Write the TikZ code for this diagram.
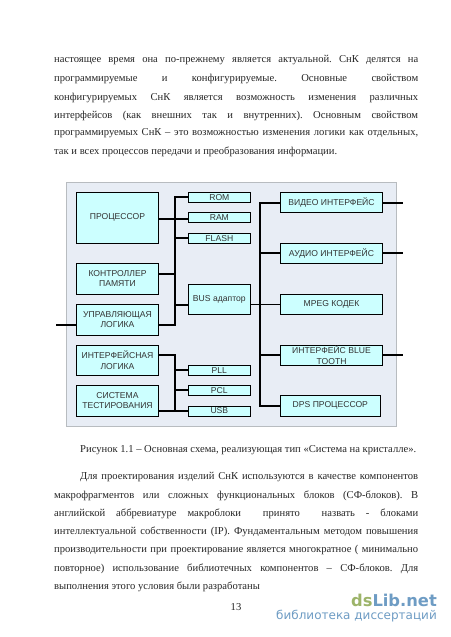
\documentclass[tikz,border=0pt]{standalone}
\usepackage{fontspec}
\setmainfont{Liberation Serif}
\newfontfamily\arialf{Liberation Sans}
\newfontfamily\wmfont{DejaVu Sans}
\definecolor{panelc}{HTML}{E8EDF5}
\definecolor{panelb}{HTML}{B8BCC0}
\definecolor{boxc}{HTML}{CCFFFF}
\definecolor{wmgreen}{HTML}{9DB46A}
\definecolor{wmblue}{HTML}{6E9CC4}
\tikzset{
 x=1pt,y=-1pt,
 blk/.style={draw=black,line width=0.7pt,fill=boxc,inner sep=0pt,align=center,font=\arialf\fontsize{8.6}{10.3}\selectfont,text=black!80},
 wire/.style={line width=2pt,draw=black},
 wirethin/.style={line width=1.3pt,draw=black},
 bodyline/.style={anchor=west,inner sep=0pt,font=\frenchspacing\fontsize{10.6}{12}\selectfont,text=black!85},
}
\newcommand{\blkat}[6]{\node[blk,minimum width=#4pt-#3pt,minimum height=#6pt-#5pt] (#1) at ({(#3+#4)/2},{(#5+#6)/2}) {#2};}
\newcommand{\jl}[3]{\node[bodyline] (#1) at (54,#2) {\makebox[364pt][s]{#3}};}
\newcommand{\pl}[4]{\node[bodyline] (#1) at (#2,#3) {#4};}
\begin{document}
\begin{tikzpicture}
\useasboundingbox (0,0) rectangle (450,637);
\fill[white] (0,0) rectangle (450,637);
% text above
\jl{t1}{60.5}{настоящее время она по-прежнему является актуальной. СнК делятся на}
\jl{t2}{79}{программируемые и конфигурируемые. Основные свойством}
\jl{t3}{97.5}{конфигурируемых СнК является возможность изменения различных}
\jl{t4}{115.5}{интерфейсов (как внешних так и внутренних). Основным свойством}
\jl{t5}{133.5}{программируемых СнК – это возможностью изменения логики как отдельных,}
\pl{t6}{54}{152}{так и всех процессов передачи и преобразования информации.}
% panel
\node[draw=panelb,line width=0.7pt,fill=panelc,minimum width=329.3pt,minimum height=244pt,inner sep=0pt] (panel) at (231.35,304) {};
% bus lines and free ends
\coordinate (b1t) at (174.5,196.5);
\coordinate (b1b) at (174.5,324.5);
\coordinate (b2t) at (174.5,355);
\coordinate (b2b) at (174.5,410.5);
\coordinate (b3t) at (260,203);
\coordinate (b3b) at (260,405.5);
\coordinate (extl) at (56,324.5);
\coordinate (extv) at (403.3,203);
\coordinate (exta) at (403.3,253);
\coordinate (extb) at (403.3,355);
\coordinate (yprc) at (0,218.5);
\coordinate (ymem) at (0,273.5);
\coordinate (yfla) at (0,238);
\coordinate (ybus) at (0,304.5);
\coordinate (ypll) at (0,370);
\coordinate (ypcl) at (0,390);
\blkat{proc}{ПРОЦЕССОР}{76.7}{158.3}{192.3}{243.3}
\blkat{mem}{КОНТРОЛЛЕР\\ПАМЯТИ}{76.7}{158.3}{263.3}{294}
\blkat{ctl}{УПРАВЛЯЮЩАЯ\\ЛОГИКА}{76.7}{158.3}{304.3}{335}
\blkat{ifl}{ИНТЕРФЕЙСНАЯ\\ЛОГИКА}{76.7}{158.3}{345}{375.3}
\blkat{tst}{СИСТЕМА\\ТЕСТИРОВАНИЯ}{76.7}{158.3}{385.3}{416}
\blkat{rom}{ROM}{188.7}{250}{192.3}{202.3}
\blkat{ram}{RAM}{188.7}{250}{212.7}{222.7}
\blkat{fla}{FLASH}{188.7}{250}{233}{243.3}
\blkat{bus}{BUS адаптор}{188.7}{250}{284}{314.3}
\blkat{pll}{PLL}{188.7}{250}{365.3}{375.3}
\blkat{pcl}{PCL}{188.7}{250}{385.3}{395.7}
\blkat{usb}{USB}{188.7}{250}{406}{416}
\blkat{vid}{ВИДЕО ИНТЕРФЕЙС}{280.7}{382.3}{192.3}{212.7}
\blkat{aud}{АУДИО ИНТЕРФЕЙС}{280.7}{382.3}{243.3}{263.3}
\blkat{mpg}{MPEG КОДЕК}{280.7}{382.3}{294}{314.3}
\blkat{blu}{ИНТЕРФЕЙС BLUE\\TOOTH}{280.7}{382.3}{345}{365.3}
\blkat{dps}{DPS ПРОЦЕССОР}{280.7}{380}{395.3}{416}
\draw[wire,line cap=rect] (b1t) -- (b1b);
\draw[wire,line cap=rect] (b2t) -- (b2b);
\draw[wire,line cap=rect] (b3t) -- (b3b);
\draw[wire] (proc.east |- yprc) -- (ram.west |- yprc);
\draw[wire] (mem.east |- ymem) -- (ymem -| b1t);
\draw[wire] (ctl.east |- b1b) -- (b1b);
\draw[wire] (b1t) -- (b1t -| rom.west);
\draw[wire] (fla.west |- yfla) -- (yfla -| b1t);
\draw[wire] (bus.west |- ybus) -- (ybus -| b1t);
\draw[wire] (ctl.west |- extl) -- (extl);
\draw[wire] (ifl.east |- b2t) -- (b2t);
\draw[wire] (pll.west |- ypll) -- (ypll -| b2t);
\draw[wire] (pcl.west |- ypcl) -- (ypcl -| b2t);
\draw[wire] (tst.east |- b2b) -- (usb.west |- b2b);
\draw[wirethin] (bus.east |- ybus) -- (mpg.west |- ybus);
\draw[wire] (b3t) -- (b3t -| vid.west);
\draw[wire] (aud.west |- exta) -- (exta -| b3t);
\draw[wire] (blu.west |- extb) -- (extb -| b3t);
\draw[wire] (b3b) -- (b3b -| dps.west);
\draw[wire] (vid.east |- extv) -- (extv);
\draw[wire] (aud.east |- exta) -- (exta);
\draw[wire] (blu.east |- extb) -- (extb);
% text below
\pl{cap}{80}{449.7}{Рисунок 1.1 – Основная схема, реализующая тип «Система на кристалле».}
\node[bodyline] (b1) at (80,477) {\makebox[338pt][s]{Для проектирования изделий СнК используются в качестве компонентов}};
\jl{b2}{495.5}{макрофрагментов или сложных функциональных блоков (СФ-блоков). В}
\jl{b3}{514}{английской аббревиатуре макроблоки\ \ принято\ \ назвать - блоками}
\jl{b4}{532}{интеллектуальной собственности (IP). Фундаментальным методом повышения}
\jl{b5}{550}{производительности при проектирование является многократное ( минимально}
\jl{b6}{569}{повторное) использование библиотечных компонентов – СФ-блоков. Для}
\pl{b7}{54}{587}{выполнения этого условия были разработаны}
\node[bodyline,anchor=center] (pg) at (236,607.5) {13};
% watermark
\node[anchor=east,inner sep=0pt,font=\wmfont\bfseries\fontsize{16.3}{20}\selectfont] (wm1) at (437,600) {\textcolor{wmgreen}{ds}\textcolor{wmblue}{Lib.net}};
\node[anchor=east,inner sep=0pt,text=wmblue,font=\wmfont\fontsize{12}{14}\selectfont] (wm2) at (437,616.5) {библиотека диссертаций};
\end{tikzpicture}
\end{document}
